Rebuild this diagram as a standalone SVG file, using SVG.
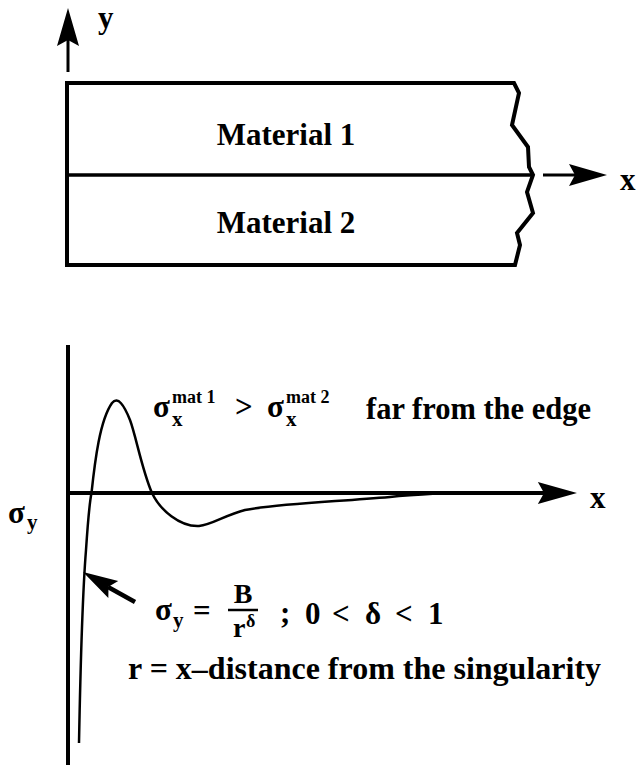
<svg xmlns="http://www.w3.org/2000/svg" xmlns:xlink="http://www.w3.org/1999/xlink" width="637" height="766" viewBox="0 0 637 766">
<style>
text{font-family:"Liberation Serif","Times New Roman",serif;font-weight:bold;fill:#000}
.t30{font-size:31px}
.frac{font-size:28px}
.sup{font-size:18px}
.sub{font-size:21px}
.ln{fill:none;stroke:#000;stroke-linecap:butt}
</style>
<defs>
<path id="head" d="M0,0 L-38,-11 L-32,0 L-38,11 Z" fill="#000"/>
</defs>
<rect width="637" height="766" fill="#fff"/>

<g id="connectors">
  <line class="ln" x1="68" y1="72" x2="68" y2="38" stroke-width="3"/>
  <use xlink:href="#head" transform="translate(68,8) rotate(-90)"/>
  <line class="ln" x1="543" y1="175" x2="576" y2="175" stroke-width="3"/>
  <use xlink:href="#head" transform="translate(607,175)"/>
  <line class="ln" x1="68" y1="345" x2="68" y2="765" stroke-width="4"/>
  <line class="ln" x1="68" y1="493" x2="545" y2="493" stroke-width="4"/>
  <use xlink:href="#head" transform="translate(577,493) scale(1.03,1)"/>
  <line class="ln" x1="135" y1="602" x2="108" y2="587" stroke-width="4.5"/>
  <use xlink:href="#head" transform="translate(83,572) rotate(210) scale(0.92,0.9)"/>
</g>

<g id="curve">
  <path class="ln" stroke-width="2.5" d="M79,743 C80,690 82,600 86,550 C88,520 89,505 91.5,493 C95,460 100,420 112,403 C118,396 124,405 130,420 C136,436 142,470 152,493 C160,510 180,527 199,526 C212,525 225,515 245,510 C275,504 330,502 390,497 C410,495 430,494 446,493"/>
</g>

<g id="material-box">
  <path class="ln" stroke-width="4" stroke-linejoin="miter" d="M514,83 L67,83 L67,265 L515,265 L520,245 L517,233 L533,213 L527,192 L533,175 L529,167 L528,147 L512,125 L519,93 Z"/>
  <line class="ln" x1="67" y1="175" x2="533" y2="175" stroke-width="3.5"/>
</g>

<g id="material-1"><text class="t30" x="286" y="145" text-anchor="middle">Material 1</text></g>
<g id="material-2"><text class="t30" x="286" y="233" text-anchor="middle">Material 2</text></g>

<g id="axis-labels">
  <text class="t30" x="98" y="28">y</text>
  <text class="t30" x="620" y="190">x</text>
  <text class="t30" x="590" y="508">x</text>
  <text class="t30" x="8" y="523">σ</text>
  <text class="sub" x="27" y="529">y</text>
</g>

<g id="far-label">
  <text class="t30" x="153" y="417">σ</text>
  <text class="sup" x="172" y="403">mat 1</text>
  <text class="sub" x="172" y="426">x</text>
  <text class="t30" x="235" y="417">&gt;</text>
  <text class="t30" x="267" y="417">σ</text>
  <text class="sup" x="286" y="403">mat 2</text>
  <text class="sub" x="286" y="426">x</text>
  <text class="t30" x="366" y="419" style="font-size:30.5px">far from the edge</text>
</g>

<g id="equation">
  <text class="t30" x="155" y="620">σ</text>
  <text class="sub" x="173" y="627">y</text>
  <text class="t30" x="193" y="621">=</text>
  <text class="frac" x="243" y="603" text-anchor="middle">B</text>
  <line class="ln" x1="228" y1="610" x2="258" y2="610" stroke-width="2.5"/>
  <text class="frac" x="233" y="637">r</text>
  <text class="sup" x="246" y="627">δ</text>
  <text class="t30" x="280" y="623">;</text>
  <text class="t30" x="305" y="624">0</text>
  <text class="t30" x="332" y="624">&lt;</text>
  <text class="t30" x="365" y="624">δ</text>
  <text class="t30" x="395" y="624">&lt;</text>
  <text class="t30" x="428" y="624">1</text>
</g>

<g id="r-definition">
  <text class="t30" x="128" y="679" style="font-size:32px">r = x–distance from the singularity</text>
</g>
</svg>
